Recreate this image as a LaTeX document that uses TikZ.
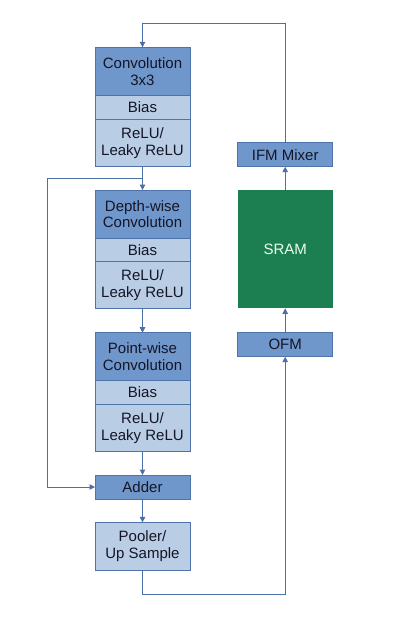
\documentclass[tikz,border=0pt]{standalone}
\usepackage{fontspec}
\setmainfont{Liberation Sans}
\usepackage{tikz}
\usetikzlibrary{arrows.meta,positioning,calc}
\definecolor{boxdark}{HTML}{6F97CB}
\definecolor{boxlight}{HTML}{B9CDE5}
\definecolor{boxedge}{HTML}{4D73A8}
\definecolor{sramgreen}{HTML}{1B7F52}
\definecolor{wire}{HTML}{4A70A8}
\definecolor{ink}{HTML}{151526}

\begin{document}
\begin{tikzpicture}[x=1pt, y=-1pt,
    blk/.style={draw=boxedge, line width=0.6pt, minimum width=95pt, inner sep=0pt, outer sep=0pt,
      align=center, text=ink, font=\fontsize{15}{16.7}\selectfont},
    dark/.style={blk, fill=boxdark},
    light/.style={blk, fill=boxlight},
    wirearrow/.style={wire, line width=1pt, -{Triangle[length=5.5pt,width=5.5pt]}}]
    \useasboundingbox (0,0) rectangle (401,634);

    % left column
    \node[dark, minimum height=48.4pt] (conv) at (142.5,71.5) {Convolution\\3x3};
    \node[light, minimum height=23.3pt, below=0pt of conv] (bias1) {Bias};
    \node[light, minimum height=47.7pt, below=0pt of bias1] (relu1) {ReLU/\\Leaky ReLU};

    \node[dark, minimum height=48.3pt] (depth) at (142.5,214.2) {Depth-wise\\Convolution};
    \node[light, minimum height=23.4pt, below=0pt of depth] (bias2) {Bias};
    \node[light, minimum height=46.6pt, below=0pt of bias2] (relu2) {ReLU/\\Leaky ReLU};

    \node[dark, minimum height=48pt] (point) at (142.5,356.7) {Point-wise\\Convolution};
    \node[light, minimum height=23.6pt, below=0pt of point] (bias3) {Bias};
    \node[light, minimum height=47.4pt, below=0pt of bias3] (relu3) {ReLU/\\Leaky ReLU};

    \node[dark, minimum height=24pt] (adder) at (142.5,487) {Adder};
    \node[light, minimum height=47.7pt] (pool) at (142.5,546.2) {Pooler/\\Up Sample};

    % right column
    \node[dark, minimum width=95pt, minimum height=24pt] (ifm) at (285.2,154.7) {IFM Mixer};
    \node[blk, draw=none, fill=sramgreen, text=green!8, minimum height=118.3pt] (sram) at (285.2,249.2) {SRAM};
    \node[dark, minimum height=24pt] (ofm) at (285.2,344.7) {OFM};

    % connectors
    \coordinate (split) at ($(relu1.south)!0.5!(depth.north)$);
    \draw[wirearrow] (relu1.south) -- (depth.north);
    \draw[wirearrow] (relu2.south) -- (point.north);
    \draw[wirearrow] (relu3.south) -- (adder.north);
    \draw[wirearrow] (adder.south) -- (pool.north);
    \draw[wirearrow] (split) -- ++(-95.2,0) |- (adder.west);
    \draw[wirearrow] (pool.south) -- ++(0,24) -| (ofm.south);
    \draw[wirearrow] (ofm.north) -- (sram.south);
    \draw[wirearrow] (sram.north) -- (ifm.south);
    \draw[wirearrow] (ifm.north) -- ++(0,-119.4) -| (conv.north);
\end{tikzpicture}
\end{document}
